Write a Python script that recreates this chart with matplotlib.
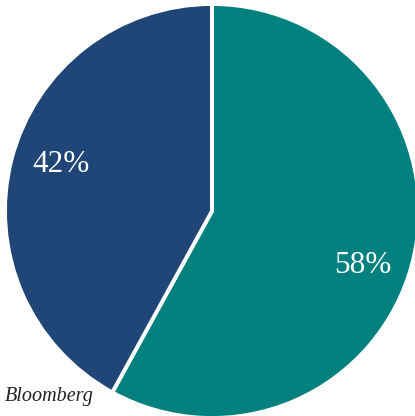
import matplotlib
matplotlib.use("Agg")
import matplotlib.pyplot as plt
import numpy as np

# share of each group
labels = ["Teal", "Blue"]
shares = [58, 42]
colors = ["#00807f", "#1f4677"]

fig = plt.figure(figsize=(4.15, 4.16), dpi=100)
ax = fig.add_axes([0, 0, 1, 1])

wedges, texts, autotexts = ax.pie(
    shares,
    colors=colors,
    startangle=90,
    counterclock=False,
    autopct=lambda p: f"{p:.0f}%",
    pctdistance=0.77,
    wedgeprops=dict(edgecolor="white", linewidth=2.8),
    textprops=dict(color="white", fontsize=22.5, family="Liberation Serif"),
)

# nudge the percentage labels a little clockwise of the wedge centres
for w, t in zip(wedges, autotexts):
    mid = np.deg2rad((w.theta1 + w.theta2) / 2 - 4)
    t.set_position((0.77 * np.cos(mid), 0.77 * np.sin(mid) - 0.02))

# pie fills the frame, clipped slightly on the right and bottom
r = 207
ax.set_aspect("auto")
ax.set_xlim(-212 / r, 203 / r)
ax.set_ylim(-205 / r, 211 / r)
ax.axis("off")

fig.text(0.012, 0.035, "Bloomberg", fontsize=14.5, style="italic",
         family="Liberation Serif", color="#222222")

fig.savefig("out.png", dpi=100)
